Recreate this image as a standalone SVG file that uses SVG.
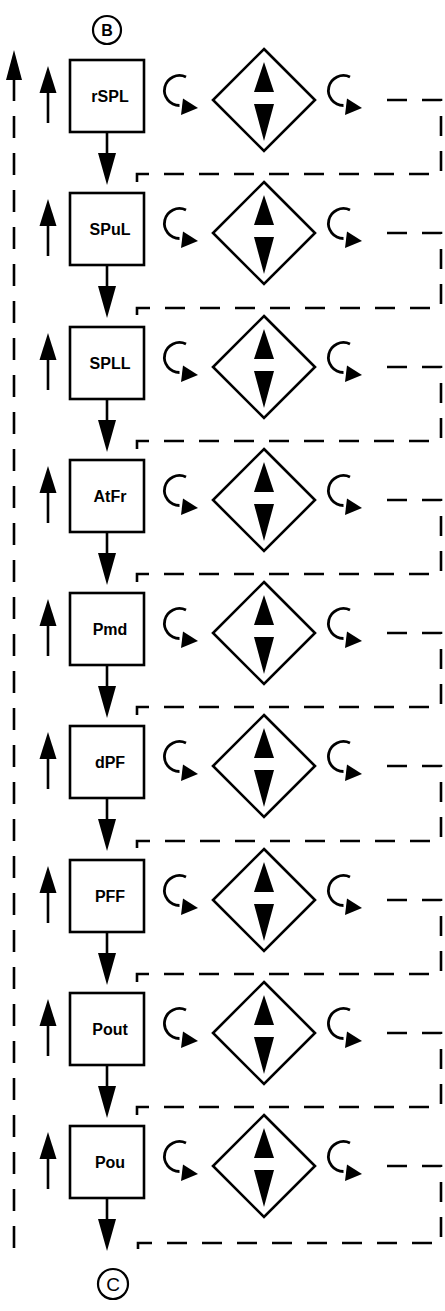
<svg xmlns="http://www.w3.org/2000/svg" xmlns:xlink="http://www.w3.org/1999/xlink" width="445" height="1311" viewBox="0 0 445 1311">
<style>
.box{fill:#fff;stroke:#000;stroke-width:2.6}
.lbl{font-family:"Liberation Sans",Arial,sans-serif;font-size:16px;font-weight:bold;fill:#000;text-anchor:middle}
.ln{fill:none;stroke:#000;stroke-width:2.8}
.dash{fill:none;stroke:#000;stroke-width:2.6;stroke-dasharray:20 15}
.head{fill:#000;stroke:none}
.circ{fill:#fff;stroke:#000;stroke-width:2.2}
</style>
<defs>
<g id="dia">
<polygon points="0,-51 51,0 0,51 -51,0" fill="#fff" stroke="#000" stroke-width="2.6"/>
<polygon class="head" points="0,-38 -10,-8 10,-8"/>
<polygon class="head" points="-10,4 10,4 0,41"/>
</g>
<g id="curl">
<path class="ln" d="M5,-19 A15,15 0 1 0 -1.5,9.5"/>
<polygon class="head" points="17,12 2,2.5 0,19"/>
</g>
<g id="up">
<line x1="48" y1="27" x2="48" y2="-5" stroke="#000" stroke-width="2.6"/>
<polygon class="head" points="48,-30 39.5,-3 56.5,-3"/>
</g>
<g id="down">
<line x1="107" y1="36" x2="107" y2="59" stroke="#000" stroke-width="2.6"/>
<polygon class="head" points="98,57 116,57 107,89"/>
</g>
</defs>
<rect width="445" height="1311" fill="#fff"/>

<g id="connectors">
<polygon class="head" points="14,50 6,80 22,80"/>
<path d="M14,79 V1260" fill="none" stroke="#000" stroke-width="2.6" stroke-dasharray="22 15"/>
<use xlink:href="#up" transform="translate(0,96)"/>
<use xlink:href="#up" transform="translate(0,229)"/>
<use xlink:href="#up" transform="translate(0,363)"/>
<use xlink:href="#up" transform="translate(0,496)"/>
<use xlink:href="#up" transform="translate(0,629)"/>
<use xlink:href="#up" transform="translate(0,762)"/>
<use xlink:href="#up" transform="translate(0,896)"/>
<use xlink:href="#up" transform="translate(0,1029)"/>
<use xlink:href="#up" transform="translate(0,1162)"/>
<use xlink:href="#down" transform="translate(0,96)"/>
<use xlink:href="#down" transform="translate(0,229)"/>
<use xlink:href="#down" transform="translate(0,363)"/>
<use xlink:href="#down" transform="translate(0,496)"/>
<use xlink:href="#down" transform="translate(0,629)"/>
<use xlink:href="#down" transform="translate(0,762)"/>
<use xlink:href="#down" transform="translate(0,896)"/>
<use xlink:href="#down" transform="translate(0,1029)"/>
<use xlink:href="#down" transform="translate(0,1162)"/>
<use xlink:href="#curl" transform="translate(181,96)"/>
<use xlink:href="#curl" transform="translate(345,96)"/>
<use xlink:href="#curl" transform="translate(181,229)"/>
<use xlink:href="#curl" transform="translate(345,229)"/>
<use xlink:href="#curl" transform="translate(181,363)"/>
<use xlink:href="#curl" transform="translate(345,363)"/>
<use xlink:href="#curl" transform="translate(181,496)"/>
<use xlink:href="#curl" transform="translate(345,496)"/>
<use xlink:href="#curl" transform="translate(181,629)"/>
<use xlink:href="#curl" transform="translate(345,629)"/>
<use xlink:href="#curl" transform="translate(181,762)"/>
<use xlink:href="#curl" transform="translate(345,762)"/>
<use xlink:href="#curl" transform="translate(181,896)"/>
<use xlink:href="#curl" transform="translate(345,896)"/>
<use xlink:href="#curl" transform="translate(181,1029)"/>
<use xlink:href="#curl" transform="translate(345,1029)"/>
<use xlink:href="#curl" transform="translate(181,1162)"/>
<use xlink:href="#curl" transform="translate(345,1162)"/>
<path class="dash" d="M387,100 H441 V174 H137 V193"/>
<path class="dash" d="M387,233 H441 V308 H137 V327"/>
<path class="dash" d="M387,367 H441 V441 H137 V460"/>
<path class="dash" d="M387,500 H441 V574 H137 V593"/>
<path class="dash" d="M387,633 H441 V707 H137 V726"/>
<path class="dash" d="M387,766 H441 V841 H137 V860"/>
<path class="dash" d="M387,900 H441 V974 H137 V993"/>
<path class="dash" d="M387,1033 H441 V1107 H137 V1126"/>
<path class="dash" d="M387,1166 H441 V1243 H138 V1258"/>
</g>

<g id="node-B">
<circle class="circ" cx="107" cy="30" r="14"/>
<text x="107" y="36" class="lbl">B</text>
</g>
<g id="node-C">
<circle class="circ" cx="113" cy="1284" r="15"/>
<text x="113" y="1291" font-family="Liberation Sans, Arial, sans-serif" font-size="19" text-anchor="middle">C</text>
</g>

<g id="node-rSPL"><rect class="box" x="70" y="60" width="74" height="72"/><text class="lbl" x="110" y="102">rSPL</text></g>
<g id="node-SPuL"><rect class="box" x="70" y="193" width="74" height="72"/><text class="lbl" x="110" y="235">SPuL</text></g>
<g id="node-SPLL"><rect class="box" x="70" y="327" width="74" height="72"/><text class="lbl" x="110" y="369">SPLL</text></g>
<g id="node-AtFr"><rect class="box" x="70" y="460" width="74" height="72"/><text class="lbl" x="110" y="502">AtFr</text></g>
<g id="node-Pmd"><rect class="box" x="70" y="593" width="74" height="72"/><text class="lbl" x="110" y="635">Pmd</text></g>
<g id="node-dPF"><rect class="box" x="70" y="726" width="74" height="72"/><text class="lbl" x="110" y="768">dPF</text></g>
<g id="node-PFF"><rect class="box" x="70" y="860" width="74" height="72"/><text class="lbl" x="110" y="902">PFF</text></g>
<g id="node-Pout"><rect class="box" x="70" y="993" width="74" height="72"/><text class="lbl" x="110" y="1035">Pout</text></g>
<g id="node-Pou"><rect class="box" x="70" y="1126" width="74" height="72"/><text class="lbl" x="110" y="1168">Pou</text></g>

<g id="diamond-1"><use xlink:href="#dia" transform="translate(264,100)"/></g>
<g id="diamond-2"><use xlink:href="#dia" transform="translate(264,233)"/></g>
<g id="diamond-3"><use xlink:href="#dia" transform="translate(264,367)"/></g>
<g id="diamond-4"><use xlink:href="#dia" transform="translate(264,500)"/></g>
<g id="diamond-5"><use xlink:href="#dia" transform="translate(264,633)"/></g>
<g id="diamond-6"><use xlink:href="#dia" transform="translate(264,766)"/></g>
<g id="diamond-7"><use xlink:href="#dia" transform="translate(264,900)"/></g>
<g id="diamond-8"><use xlink:href="#dia" transform="translate(264,1033)"/></g>
<g id="diamond-9"><use xlink:href="#dia" transform="translate(264,1166)"/></g>
</svg>
